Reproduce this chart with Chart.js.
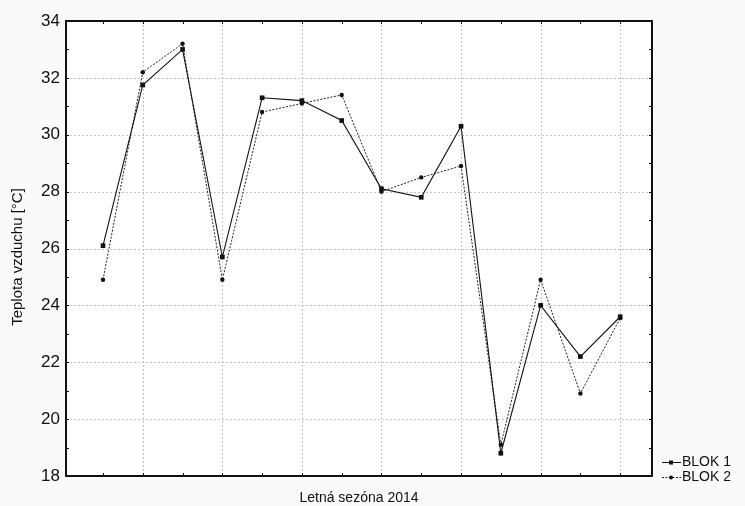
<!DOCTYPE html>
<html>
<head>
<meta charset="utf-8">
<script src="https://cdn.jsdelivr.net/npm/chart.js@4.4.1/dist/chart.umd.min.js"></script>
<style>
  html, body { margin: 0; padding: 0; background: #fafafa; }
  #wrap { position: relative; width: 745px; height: 506px; }
</style>
</head>
<body>
<div id="wrap"><canvas id="c" width="745" height="506"></canvas></div>
<script>
// Measurement days of the 2014 season (x positions 1..14)
const days = [1, 2, 3, 4, 5, 6, 7, 8, 9, 10, 11, 12, 13, 14];
// Air temperature [°C] per block
const blok1 = [26.1, 31.75, 33.0, 25.7, 31.3, 31.2, 30.5, 28.1, 27.8, 30.3, 18.8, 24.0, 22.2, 23.6];
const blok2 = [24.9, 32.2, 33.2, 24.9, 30.8, 31.1, 31.4, 28.0, 28.5, 28.9, 19.1, 24.9, 20.9, 23.55];
const yTickValues = [18, 20, 22, 24, 26, 28, 30, 32, 34];
const seriesNames = ['BLOK 1', 'BLOK 2'];
const xTitle = 'Letná sezóna 2014';
const yTitle = 'Teplota vzduchu [°C]';

const FONT = '"Liberation Sans", Arial, sans-serif';

const toPoints = vals => days.map((d, i) => ({ x: d, y: vals[i] }));

// Frame, dotted grid, inward ticks, axis titles and legend
const framePlugin = {
  id: 'frame',
  beforeDraw(chart) {
    const { ctx, chartArea: a } = chart;
    ctx.save();
    ctx.fillStyle = '#fafafa';
    ctx.fillRect(0, 0, chart.width, chart.height);
    ctx.fillStyle = '#ffffff';
    ctx.fillRect(a.left, a.top, a.right - a.left, a.bottom - a.top);
    ctx.restore();
  },
  beforeDatasetsDraw(chart) {
    const { ctx, chartArea: a, scales: { x, y } } = chart;
    ctx.save();
    ctx.strokeStyle = '#c4c4c4';
    ctx.lineWidth = 1;
    ctx.setLineDash([2, 2]);
    days.filter(d => d % 2 === 0).forEach(d => {
      const px = Math.round(x.getPixelForValue(d)) + 0.5;
      ctx.beginPath(); ctx.moveTo(px, a.top); ctx.lineTo(px, a.bottom); ctx.stroke();
    });
    yTickValues.filter(v => v > y.min && v < y.max).forEach(v => {
      const py = Math.round(y.getPixelForValue(v)) + 0.5;
      ctx.beginPath(); ctx.moveTo(a.left, py); ctx.lineTo(a.right, py); ctx.stroke();
    });
    ctx.restore();
  },
  afterDraw(chart) {
    const { ctx, chartArea: a, scales: { x, y } } = chart;
    ctx.save();
    ctx.strokeStyle = '#111';
    ctx.lineWidth = 2;
    ctx.setLineDash([]);
    ctx.strokeRect(a.left, a.top, a.right - a.left, a.bottom - a.top);
    // inward tick marks
    ctx.lineWidth = 1;
    const t = 3;
    days.forEach(d => {
      const px = Math.round(x.getPixelForValue(d)) + 0.5;
      ctx.beginPath();
      ctx.moveTo(px, a.top); ctx.lineTo(px, a.top + t);
      ctx.moveTo(px, a.bottom); ctx.lineTo(px, a.bottom - t);
      ctx.stroke();
    });
    for (let v = y.min + 1; v < y.max; v++) {
      const py = Math.round(y.getPixelForValue(v)) + 0.5;
      ctx.beginPath();
      ctx.moveTo(a.left, py); ctx.lineTo(a.left + t, py);
      ctx.moveTo(a.right, py); ctx.lineTo(a.right - t, py);
      ctx.stroke();
    }
    // axis titles
    ctx.fillStyle = '#111';
    ctx.font = '14px ' + FONT;
    ctx.textAlign = 'center';
    ctx.textBaseline = 'middle';
    ctx.fillText(xTitle, (a.left + a.right) / 2, 498);
    ctx.save();
    ctx.translate(18, 257);
    ctx.rotate(-Math.PI / 2);
    ctx.font = '15px ' + FONT;
    ctx.fillText(yTitle, 0, 0);
    ctx.restore();
    // legend
    const rows = [462, 477];
    chart.data.datasets.forEach((ds, i) => {
      const yy = rows[i] + 0.5;
      ctx.strokeStyle = ds.borderColor;
      ctx.lineWidth = 1;
      ctx.setLineDash(ds.borderDash || []);
      ctx.beginPath(); ctx.moveTo(662, yy); ctx.lineTo(681, yy); ctx.stroke();
      ctx.setLineDash([]);
      ctx.fillStyle = ds.pointBackgroundColor;
      if (ds.pointStyle === 'rect') ctx.fillRect(669, yy - 2, 4, 4);
      else { ctx.beginPath(); ctx.arc(671, yy, 2, 0, Math.PI * 2); ctx.fill(); }
      ctx.fillStyle = '#111';
      ctx.textAlign = 'left';
      ctx.font = '14px ' + FONT;
      ctx.fillText(ds.label, 682, rows[i]);
    });
    ctx.restore();
  }
};

new Chart(document.getElementById('c'), {
  type: 'line',
  data: {
    datasets: [
      {
        label: seriesNames[0],
        data: toPoints(blok1),
        borderColor: '#111111',
        borderWidth: 1.1,
        pointStyle: 'rect',
        pointRadius: 3.3,
        pointBackgroundColor: '#111111',
        pointBorderWidth: 0,
        tension: 0
      },
      {
        label: seriesNames[1],
        data: toPoints(blok2),
        borderColor: '#222222',
        borderWidth: 1,
        borderDash: [2, 1.5],
        pointStyle: 'circle',
        pointRadius: 2.2,
        pointBackgroundColor: '#111111',
        pointBorderWidth: 0,
        tension: 0
      }
    ]
  },
  options: {
    responsive: false,
    animation: false,
    events: [],
    layout: { padding: { top: 21, right: 93, left: 0, bottom: 0 } },
    plugins: { legend: { display: false }, tooltip: { enabled: false }, title: { display: false } },
    scales: {
      x: {
        type: 'linear',
        min: 0.07,
        max: 14.8,
        ticks: { display: false },
        grid: { display: false },
        border: { display: false },
        afterFit: s => { s.height = 30; }
      },
      y: {
        min: 18,
        max: 34,
        afterBuildTicks: s => { s.ticks = yTickValues.map(v => ({ value: v })); },
        ticks: {
          color: '#111',
          font: { family: FONT, size: 17 },
          padding: 6
        },
        grid: { display: false, drawTicks: false },
        border: { display: false },
        afterFit: s => { s.width = 66; }
      }
    }
  },
  plugins: [framePlugin]
});
</script>
</body>
</html>
